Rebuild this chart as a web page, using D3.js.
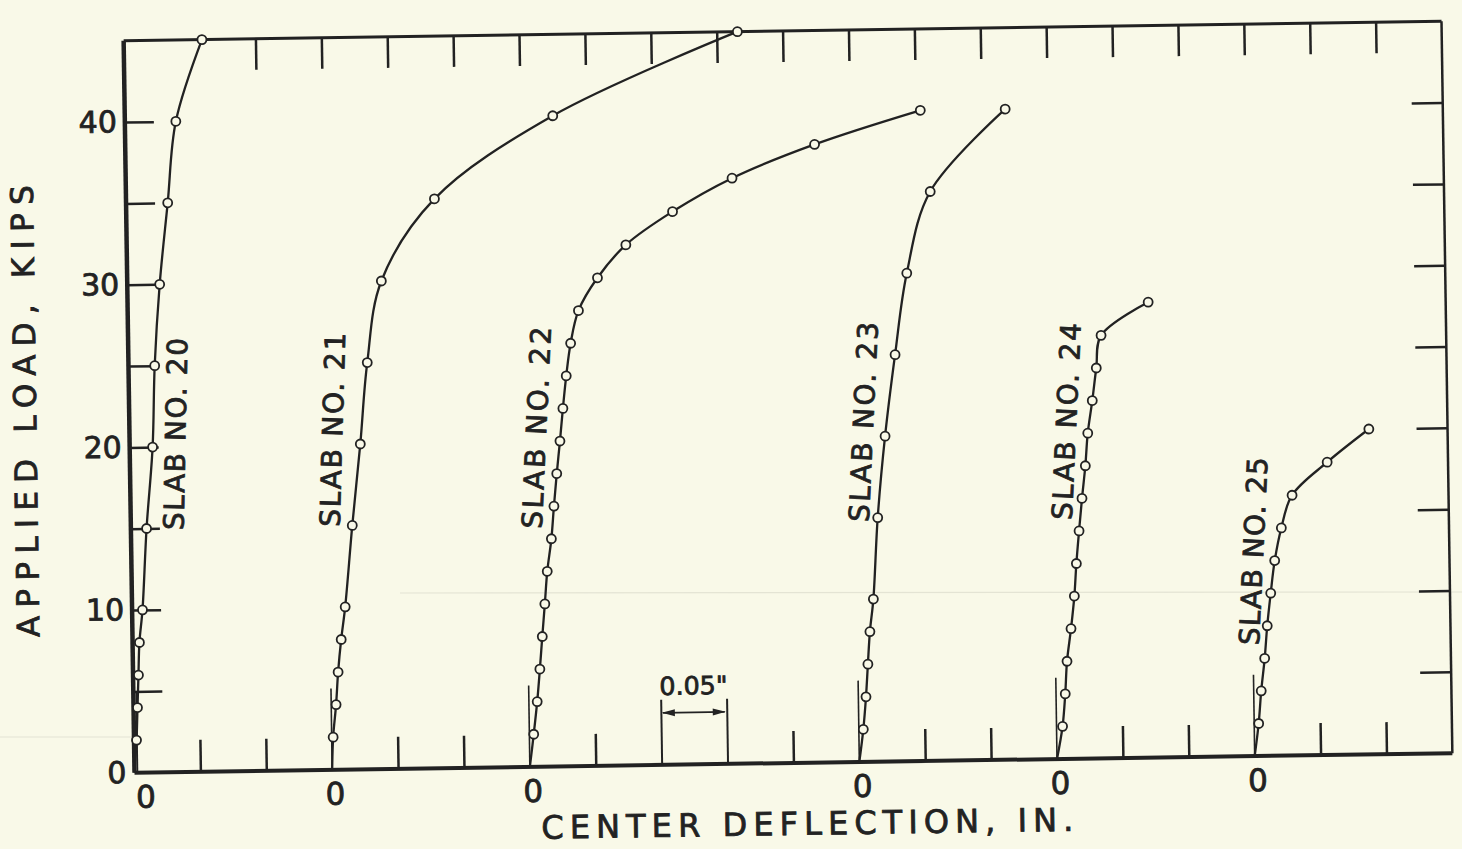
<!DOCTYPE html>
<html>
<head>
<meta charset="utf-8">
<script src="https://cdn.jsdelivr.net/npm/d3@7"></script>
<style>
  body { margin: 0; background: #f9f9e8; }
  svg { display: block; }
  text { font-family: "DejaVu Sans", sans-serif; stroke: #222; stroke-width: 0.8px; }
</style>
</head>
<body>
<svg id="root"></svg>
<script>
// slab names and where each curve's zero sits on the deflection axis (in.)
const slabNames = ["SLAB NO. 20", "SLAB NO. 21", "SLAB NO. 22", "SLAB NO. 23", "SLAB NO. 24", "SLAB NO. 25"];
const slabZero = [0, 0.15, 0.30, 0.55, 0.70, 0.85];

// applied load (kips) / center deflection (in.)
const load20 = [2, 4, 6, 8, 10, 15, 20, 25, 30, 35, 40, 45];
const defl20 = [0.0019, 0.0030, 0.0041, 0.0052, 0.0079, 0.0119, 0.0174, 0.0199, 0.0246, 0.0316, 0.0387, 0.0594];

const load21 = [2, 4, 6, 8, 10, 15, 20, 25, 30, 35, 40, 45];
const defl21 = [0.0011, 0.0037, 0.0056, 0.0083, 0.0117, 0.0180, 0.0250, 0.0312, 0.0428, 0.0840, 0.1747, 0.3157];

const load22 = [2, 4, 6, 8, 10, 12, 14, 16, 18, 20, 22, 24, 26, 28, 30, 32, 34, 36, 38, 40];
const defl22 = [0.0033, 0.0063, 0.0087, 0.0109, 0.0132, 0.0154, 0.0189, 0.0212, 0.0237, 0.0265,
                0.0291, 0.0320, 0.0357, 0.0420, 0.0568, 0.0787, 0.1145, 0.1600, 0.2230, 0.3036];

const load23 = [2, 4, 6, 8, 10, 15, 20, 25, 30, 35, 40];
const defl23 = [0.0034, 0.0058, 0.0076, 0.0095, 0.0125, 0.0167, 0.0232, 0.0317, 0.0415, 0.0602, 0.1180];

const load24 = [2, 4, 6, 8, 10, 12, 14, 16, 18, 20, 22, 24, 26, 28];
const defl24 = [0.0046, 0.0070, 0.0087, 0.0121, 0.0150, 0.0169, 0.0193, 0.0219, 0.0248, 0.0270,
                0.0308, 0.0342, 0.0382, 0.0743];

const load25 = [2, 4, 6, 8, 10, 12, 14, 16, 18, 20];
const defl25 = [0.0034, 0.0057, 0.0087, 0.0110, 0.0140, 0.0174, 0.0228, 0.0313, 0.0583, 0.0903];

// tick values
const loadLabels = [0, 10, 20, 30, 40];
const loadTicks = [5, 10, 15, 20, 25, 30, 35, 40];
const topTicks = [0.10, 0.15, 0.20, 0.25, 0.30, 0.35, 0.40, 0.45, 0.50, 0.55, 0.60, 0.65, 0.70, 0.75, 0.80, 0.85, 0.90, 0.95];
const bottomTicks = [0.05, 0.10, 0.20, 0.25, 0.35, 0.50, 0.60, 0.65, 0.75, 0.80, 0.90, 0.95];
const scaleBar = [0.40, 0.45];

const loads = [load20, load21, load22, load23, load24, load25];
const defls = [defl20, defl21, defl22, defl23, defl24, defl25];

const ink = "#222";
const paper = "#f9f9e8";
const W = 1462, H = 849;

const svg = d3.select("#root").attr("width", W).attr("height", H);
svg.append("rect").attr("width", W).attr("height", H).attr("fill", paper);

// faint scan creases
svg.append("line").attr("x1", 400).attr("x2", W).attr("y1", 593).attr("y2", 592)
  .attr("stroke", "#e4e4d4").attr("stroke-width", 1.2);
svg.append("line").attr("x1", 0).attr("x2", 135).attr("y1", 737).attr("y2", 737)
  .attr("stroke", "#e4e4d4").attr("stroke-width", 1.2);

// the scan is tilted slightly
const g = svg.append("g").attr("transform", "rotate(-0.85 786 397)");

const x = d3.scaleLinear().domain([0, 1]).range([129, 1447]);
const y = d3.scaleLinear().domain([0, 45]).range([763, 31]);

function styleAxis(sel, w) {
  sel.attr("color", ink);
  sel.select(".domain").remove();
  sel.selectAll(".tick line").attr("stroke-width", w);
}

// frame
g.append("line").attr("x1", x(0)).attr("x2", x(0)).attr("y1", y(45)).attr("y2", y(0))
  .attr("stroke", ink).attr("stroke-width", 4.5);
g.append("line").attr("x1", x(0)).attr("x2", x(1)).attr("y1", y(45)).attr("y2", y(45))
  .attr("stroke", ink).attr("stroke-width", 3);
g.append("line").attr("x1", x(1)).attr("x2", x(1)).attr("y1", y(45)).attr("y2", y(0))
  .attr("stroke", ink).attr("stroke-width", 2.5);
g.append("line").attr("x1", x(0)).attr("x2", x(1)).attr("y1", y(0)).attr("y2", y(0))
  .attr("stroke", ink).attr("stroke-width", 4);

// left labels
g.append("g").attr("transform", `translate(${x(0)},0)`)
  .call(d3.axisLeft(y).tickValues(loadLabels).tickSize(0).tickPadding(8))
  .call(s => styleAxis(s, 0))
  .attr("font-family", "DejaVu Sans, sans-serif").attr("font-size", 30);

// inner ticks
g.append("g").attr("transform", `translate(${x(0)},0)`)
  .call(d3.axisRight(y).tickValues(loadTicks).tickSize(29).tickFormat(""))
  .call(s => styleAxis(s, 2.5));
g.append("g").attr("transform", `translate(${x(1)},0)`)
  .call(d3.axisLeft(y).tickValues(loadTicks).tickSize(31).tickFormat(""))
  .call(s => styleAxis(s, 2.5));
g.append("g").attr("transform", `translate(0,${y(45)})`)
  .call(d3.axisBottom(x).tickValues(topTicks).tickSize(31).tickFormat(""))
  .call(s => styleAxis(s, 2.5));
g.append("g").attr("transform", `translate(0,${y(0)})`)
  .call(d3.axisTop(x).tickValues(bottomTicks).tickSize(32).tickFormat(""))
  .call(s => styleAxis(s, 2.5));

// 0.05" scale bar
g.append("g").attr("transform", `translate(0,${y(0)})`)
  .call(d3.axisTop(x).tickValues(scaleBar).tickSize(y(0) - y(4)).tickFormat(""))
  .call(s => styleAxis(s, 2));
const barY = y(3.2);
g.append("line").attr("x1", x(scaleBar[0]) + 2).attr("x2", x(scaleBar[1]) - 2)
  .attr("y1", barY).attr("y2", barY).attr("stroke", ink).attr("stroke-width", 1.8);
[[x(scaleBar[0]) + 1, 1], [x(scaleBar[1]) - 1, -1]].forEach(([px, dir]) => {
  g.append("path")
    .attr("d", `M${px},${barY} L${px + dir * 13},${barY - 3.5} L${px + dir * 13},${barY + 3.5} Z`)
    .attr("fill", ink);
});
g.append("text").attr("x", (x(scaleBar[0]) + x(scaleBar[1])) / 2).attr("y", y(4.3))
  .attr("text-anchor", "middle").attr("font-size", 25).attr("fill", ink)
  .attr("textLength", 68).attr("lengthAdjust", "spacingAndGlyphs")
  .text('0.05"');

// zero markers and "0" labels
slabZero.forEach((z, i) => {
  g.append("line").attr("x1", x(z) + (i === 0 ? 3 : 0)).attr("x2", x(z) + (i === 0 ? 3 : 0))
    .attr("y1", y(0)).attr("y2", y(5))
    .attr("stroke", ink).attr("stroke-width", 1.6);
  g.append("text").attr("x", x(z) + (i === 0 ? 11 : 3)).attr("y", y(0) + 35)
    .attr("text-anchor", "middle").attr("font-size", 31).attr("fill", ink)
    .text("0");
});

// curves
const line = d3.line()
  .x(d => x(d.zero + d.defl))
  .y(d => y(d.load))
  .curve(d3.curveCatmullRom.alpha(0.5));

const series = slabNames.map((name, i) => ({
  name,
  pts: [{ zero: slabZero[i], defl: 0, load: 0 }].concat(
    loads[i].map((l, j) => ({ zero: slabZero[i], defl: defls[i][j], load: l })))
}));

g.selectAll(".curve").data(series).enter().append("path")
  .attr("class", "curve")
  .attr("d", d => line(d.pts))
  .attr("fill", "none").attr("stroke", ink).attr("stroke-width", 2.3);

g.selectAll(".pts").data(series).enter().append("g")
  .attr("class", "pts")
  .selectAll("circle").data(d => d.pts.slice(1)).enter().append("circle")
  .attr("cx", d => x(d.zero + d.defl))
  .attr("cy", d => y(d.load))
  .attr("r", 4.5)
  .attr("fill", paper).attr("stroke", ink).attr("stroke-width", 1.8);

// slab labels, rotated along the curves
const labelPos = [[175.5, 425, -88], [332.5, 423, -87.5], [536.5, 424, -86.5],
                  [863.5, 423, -86.5], [1066.5, 425.5, -86.5], [1251.5, 558, -86.5]];
const labelLen = [192, 194, 202, 200, 197, 188];
g.selectAll(".slab").data(slabNames).enter().append("text")
  .attr("class", "slab")
  .attr("transform", (d, i) => `translate(${labelPos[i][0]},${labelPos[i][1]}) rotate(${labelPos[i][2]})`)
  .attr("text-anchor", "middle").attr("dominant-baseline", "central")
  .attr("font-size", 28).attr("fill", ink)
  .attr("textLength", (d, i) => labelLen[i]).attr("lengthAdjust", "spacing")
  .text(d => d);

// axis titles
g.append("text").attr("transform", "translate(36,400) rotate(-90)")
  .attr("text-anchor", "middle").attr("font-size", 31).attr("fill", ink)
  .attr("textLength", 452).attr("lengthAdjust", "spacing")
  .text("APPLIED LOAD, KIPS");
g.append("text").attr("x", 801).attr("y", 835)
  .attr("text-anchor", "middle").attr("font-size", 32).attr("fill", ink)
  .attr("textLength", 532).attr("lengthAdjust", "spacing")
  .text("CENTER DEFLECTION, IN.");
</script>
</body>
</html>
